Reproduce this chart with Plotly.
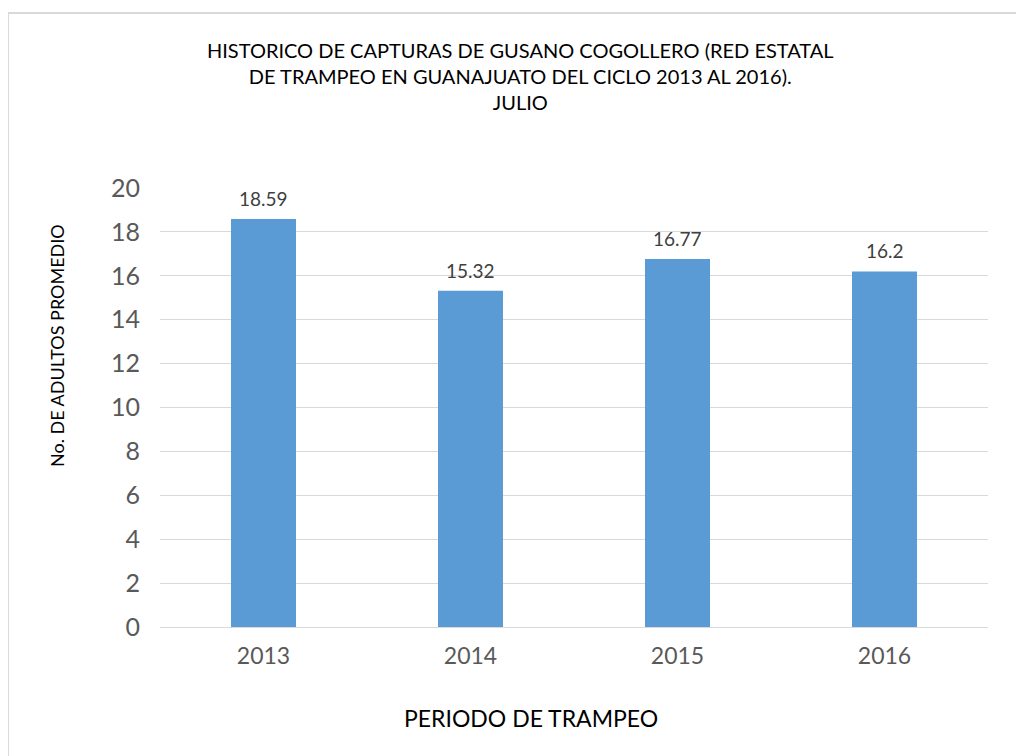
import plotly.graph_objects as go

years = ["2013", "2014", "2015", "2016"]
values = [18.59, 15.32, 16.77, 16.2]
labels = ["18.59", "15.32", "16.77", "16.2"]
y_ticks = [0, 2, 4, 6, 8, 10, 12, 14, 16, 18, 20]

FONT = "Lato"
W, H = 1024, 756
ML, MR, MT, MB = 152, 44, 180, 137
PW, PH = W - ML - MR, H - MT - MB


def px(x):
    return (x - ML) / PW


def py(y):
    return 1 - (y - MT) / PH


fig = go.Figure()
fig.add_trace(go.Bar(
    x=years, y=values,
    marker=dict(color="#5B9BD5", line=dict(width=0)),
    cliponaxis=False,
))

# data labels placed on the category axis by category index
label_annotations = [
    dict(x=i, y=v, text=t, xref="x", yref="y", showarrow=False,
         xanchor="center", yanchor="bottom", yshift=7,
         font=dict(family=FONT, size=19, color="#404040"))
    for i, (v, t) in enumerate(zip(values, labels))
]

fig.update_layout(
    width=W, height=H,
    margin=dict(l=ML, r=MR, t=MT, b=MB),
    paper_bgcolor="white", plot_bgcolor="white",
    bargap=0.686,
    showlegend=False,
    font=dict(family=FONT),
    xaxis=dict(
        type="category", categoryorder="array", categoryarray=years,
        range=[-0.5, len(years) - 0.5],
        showgrid=False, showline=False, ticks="",
        tickfont=dict(family=FONT, size=23, color="#595959"),
        ticklabelstandoff=13,
    ),
    yaxis=dict(
        range=[0, 20], tickvals=y_ticks, showline=False, ticks="",
        gridcolor="#D9D9D9", gridwidth=1,
        zeroline=True, zerolinecolor="#D9D9D9", zerolinewidth=1,
        tickfont=dict(family=FONT, size=25, color="#595959"),
        ticklabelstandoff=19,
    ),
    annotations=label_annotations + [
        dict(text="HISTORICO DE CAPTURAS DE GUSANO COGOLLERO (RED ESTATAL<br>DE TRAMPEO EN GUANAJUATO DEL CICLO 2013 AL 2016).<br>JULIO",
             xref="paper", yref="paper", x=px(512), y=py(68),
             xanchor="center", yanchor="middle", showarrow=False,
             font=dict(family=FONT, size=20, color="#000000")),
        dict(text="No. DE ADULTOS PROMEDIO", textangle=-90,
             xref="paper", yref="paper", x=px(49), y=py(338),
             xanchor="center", yanchor="middle", showarrow=False,
             font=dict(family=FONT, size=18, color="#000000")),
        dict(text="PERIODO DE TRAMPEO",
             xref="paper", yref="paper", x=px(523), y=py(710),
             xanchor="center", yanchor="middle", showarrow=False,
             font=dict(family=FONT, size=23, color="#000000")),
    ],
    shapes=[
        dict(type="line", xref="paper", yref="paper",
             x0=px(0), x1=1.2, y0=py(5), y1=py(5),
             line=dict(color="#D9D9D9", width=2)),
        dict(type="line", xref="paper", yref="paper",
             x0=px(0), x1=px(0), y0=py(5), y1=-0.4,
             line=dict(color="#D9D9D9", width=2)),
    ],
)

fig.write_html("out.html")
